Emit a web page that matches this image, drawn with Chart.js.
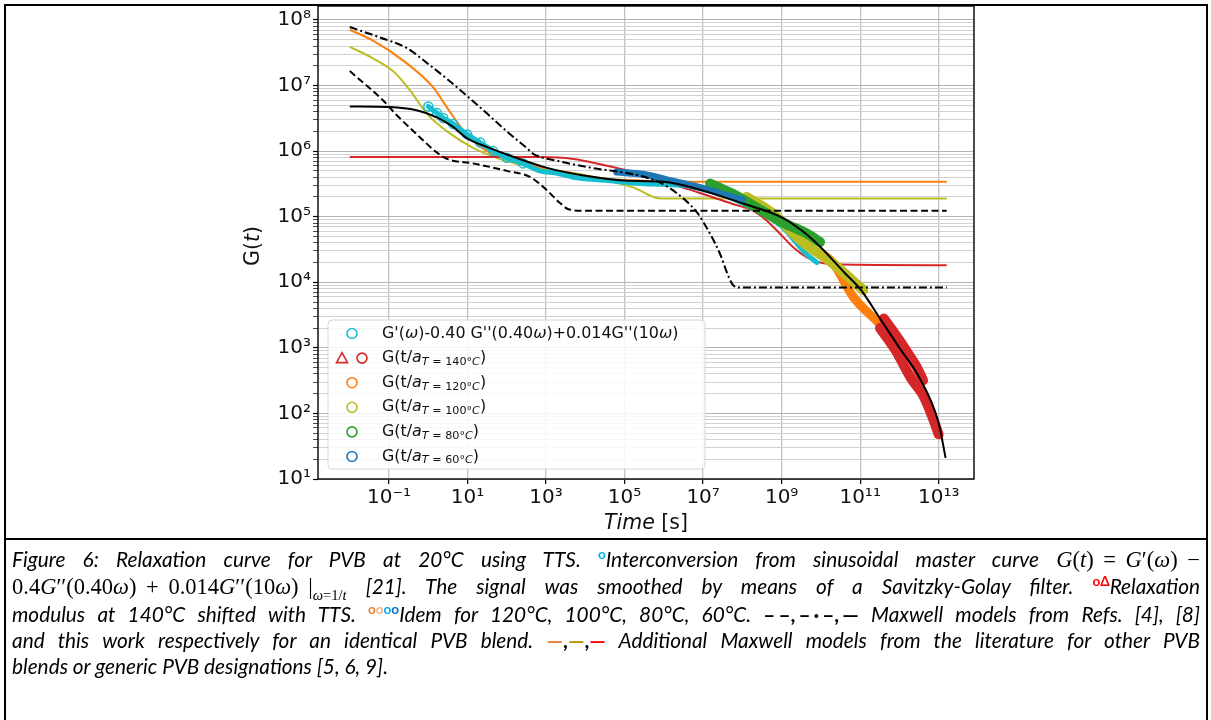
<!DOCTYPE html>
<html>
<head>
<meta charset="utf-8">
<script src="https://cdn.jsdelivr.net/npm/chart.js@4.4.1/dist/chart.umd.min.js"></script>
<style>
  html, body { margin: 0; padding: 0; background: #fff; }
  body { width: 1211px; height: 720px; position: relative; overflow: hidden; }
  #plot { position: absolute; left: 0; top: 0; }
  .frame { position: absolute; left: 4px; top: 4px; width: 1200px; height: 760px; border: 2px solid #000; }
  .sep { position: absolute; left: 4px; top: 538px; width: 1204px; height: 2px; background: #000; }
  #caption { position: absolute; left: 12px; top: 546px; width: 1188px; font-family: Lato, "Open Sans", sans-serif;
    font-style: italic; font-size: 20.8px; line-height: 26.3px; color: #000; }
  #caption div { text-align: justify; text-align-last: justify; white-space: nowrap; }
  #caption div.last { text-align: left; text-align-last: left; }
  .m { display: inline-block; font-family: "Liberation Serif", "DejaVu Serif", serif; font-style: normal; font-size: 22.5px; word-spacing: 4px; }
  .m i { font-style: italic; }
  .k { display: inline-block; font-style: normal; font-weight: bold; word-spacing: -2px; }
  sup, sub { line-height: 0; font-size: 65%; font-style: normal; font-weight: bold; }
  sub { font-weight: normal; }
</style>
</head>
<body>
<canvas id="plot" width="1211" height="540"></canvas>
<div class="frame"></div>
<div class="sep"></div>
<div id="caption">
  <div>Figure 6: Relaxation curve for PVB at 20°C using TTS. <sup style="color:#00b0f0">o</sup>Interconversion from sinusoidal master curve <span class="m"><i>G</i>(<i>t</i>) = <i>G</i>′(<i>ω</i>) −</span></div>
  <div><span class="m">0.4<i>G</i>′′(0.40<i>ω</i>) + 0.014<i>G</i>′′(10<i>ω</i>) |<sub><i>ω</i>=1/<i>t</i></sub></span> [21]. The signal was smoothed by means of a Savitzky-Golay filter. <sup style="color:#ff0000">oΔ</sup>Relaxation</div>
  <div>modulus at 140°C shifted with TTS. <sup><span style="color:#ed7d31">o</span><span style="color:#f4b183">o</span><span style="color:#00b0f0">o</span><span style="color:#0070c0">o</span></sup>Idem for 120°C, 100°C, 80°C, 60°C. <span class="k">– –, – · –, —</span> Maxwell models from Refs. [4], [8]</div>
  <div>and this work respectively for an identical PVB blend. <span class="k"><span style="color:#ed7d31">—</span>,<span style="color:#bf9000">—</span>,<span style="color:#ff0000">—</span></span> Additional Maxwell models from the literature for other PVB</div>
  <div class="last">blends or generic PVB designations [5, 6, 9].</div>
</div>
<script>
// axis ticks
const xTicks = [1e-1, 1e1, 1e3, 1e5, 1e7, 1e9, 1e11, 1e13];
const yMajor = [1e1, 1e2, 1e3, 1e4, 1e5, 1e6, 1e7, 1e8];

// Maxwell model: this work (solid black)
const tBlk = [1e-2, 1e-1, 0.5, 1.6, 4, 10, 32, 100, 1e3, 1e4, 1e5, 1e6, 1e7, 1e8, 1e9, 3.2e9, 1e10, 4e10, 1e11, 3.2e11, 1e12, 3.2e12, 1e13, 1.5e13];
const gBlk = [4.8e6, 4.7e6, 4.2e6, 3.3e6, 2.4e6, 1.55e6, 1.15e6, 8.9e5, 5.6e5, 4.2e5, 3.55e5, 3.4e5, 2.5e5, 1.6e5, 9.8e4, 6.2e4, 3.4e4, 1.4e4, 7.9e3, 2.8e3, 1.0e3, 355, 71, 21];
// Ref. [4] (dashed)
const tR4 = [1e-2, 0.071, 0.16, 0.51, 1.66, 3.0, 13.8, 100, 400, 1.07e3, 2.3e3, 3.7e3, 1e4, 1.6e13];
const gR4 = [1.66e7, 5.9e6, 3.5e6, 1.8e6, 9.5e5, 7.6e5, 6.5e5, 5.0e5, 4.0e5, 2.5e5, 1.6e5, 1.3e5, 1.23e5, 1.23e5];
// Ref. [8] (dash-dot)
const tR8 = [1e-2, 0.059, 0.29, 0.93, 3.0, 9.8, 32, 100, 330, 470, 1.95e3, 1.35e4, 2.5e5, 8e5, 2.1e6, 6.9e6, 1.5e7, 2.7e7, 4.5e7, 5.9e7, 8.7e7, 1.6e13];
const gR8 = [7.8e7, 5.4e7, 3.7e7, 2.2e7, 1.26e7, 6.9e6, 3.7e6, 2.0e6, 1.1e6, 9.1e5, 7.1e5, 5.6e5, 4.2e5, 3.3e5, 2.3e5, 1.17e5, 5.5e4, 2.7e4, 1.2e4, 8.9e3, 8.3e3, 8.3e3];
// other PVB models from literature
const tLitOr = [1e-2, 0.04, 0.23, 1.35, 3.0, 9.5, 31, 100, 700, 5e3, 3.5e4, 2.5e5, 1e6, 1.6e13];
const gLitOr = [7.1e7, 4.8e7, 2.4e7, 9.3e6, 4.6e6, 1.8e6, 1.0e6, 7.9e5, 5.6e5, 4.6e5, 3.8e5, 3.55e5, 3.4e5, 3.4e5];
const tLitOl = [1e-2, 0.039, 0.126, 0.35, 0.93, 3.0, 13.8, 68, 470, 4.9e3, 3.5e4, 1.66e5, 5.4e5, 8.9e5, 1.6e13];
const gLitOl = [3.9e7, 2.6e7, 1.66e7, 8.3e6, 3.7e6, 2.0e6, 1.12e6, 7.6e5, 5.6e5, 4.6e5, 3.55e5, 2.8e5, 2.0e5, 1.9e5, 1.9e5];
const tLitRd = [1e-2, 700, 5e3, 2.4e4, 1.66e5, 1.17e6, 8.3e6, 5.9e7, 1.9e8, 4.2e8, 9.1e8, 2e9, 4.4e9, 9.5e9, 3.1e10, 1.6e13];
const gLitRd = [8.1e5, 8.1e5, 7.6e5, 6.3e5, 4.8e5, 3.3e5, 2.3e5, 1.55e5, 1.23e5, 8.7e4, 5.5e4, 3.4e4, 2.4e4, 2.0e4, 1.86e4, 1.82e4];

// measured data
const tCy = [1.0, 1.66, 2.4, 4.3, 9.8, 21, 45, 100, 260, 700, 1.95e3, 4.9e3, 3.2e4, 2.5e5, 7.9e6, 1e8, 1e9, 4e9, 7.9e9];
const gCy = [4.8e6, 3.8e6, 3.2e6, 2.6e6, 1.8e6, 1.35e6, 1.0e6, 7.9e5, 6.5e5, 5.0e5, 4.6e5, 4.0e5, 3.6e5, 3.2e5, 2.8e5, 1.6e5, 7.1e4, 2.8e4, 2.0e4];
const t140c = [4e11, 7.9e11, 1.6e12, 2.8e12, 4e12];
const g140c = [2.8e3, 1.6e3, 850, 500, 320];
const t140t = [3.2e11, 7.9e11, 2e12, 4e12, 7.1e12, 1e13];
const g140t = [2.0e3, 930, 340, 190, 85, 48];
const t120 = [1e10, 2e10, 6.8e10, 2.6e11, 8.5e11];
const g120 = [2.8e4, 2.0e4, 5.9e3, 2.6e3, 1.3e3];
const t100 = [1.3e8, 6.2e8, 3e9, 2.1e10, 1.2e11];
const g100 = [2.0e5, 1.1e5, 4.4e4, 1.9e4, 7.6e3];
const t80 = [1.5e7, 5.9e7, 2.3e8, 1.1e9, 4.4e9, 9.5e9];
const g80 = [3.2e5, 2.2e5, 1.38e5, 8.1e4, 5.5e4, 4.1e4];
const t60 = [6.3e4, 3.2e5, 1.6e6, 7.9e6, 3.2e7, 1e8];
const g60 = [4.8e5, 4.4e5, 3.5e5, 2.8e5, 2.2e5, 1.8e5];

const C = { blue: '#1f77b4', orange: '#ff7f0e', green: '#2ca02c', red: '#d62728', olive: '#bcbd22', cyan: '#17becf' };

const toPts = (ts, gs) => ts.map((t, i) => ({ x: t, y: gs[i] }));
const isDecade = v => Math.abs(Math.log10(v) - Math.round(Math.log10(v))) < 1e-6;
const SUP = { '-': '⁻', '0': '⁰', '1': '¹', '2': '²', '3': '³', '4': '⁴', '5': '⁵', '6': '⁶', '7': '⁷', '8': '⁸', '9': '⁹' };
const powLabel = v => '10' + String(Math.round(Math.log10(v))).split('').map(c => SUP[c]).join('');

const yTicks = [];
yMajor.forEach(m => { for (let k = 1; k <= 9; k++) if (k * m <= 1.63e8) yTicks.push(k * m); });

const curve = (ts, gs, color, width, dash, order) => ({
  data: toPts(ts, gs), borderColor: color, borderWidth: width, borderDash: dash || [],
  pointRadius: 0, cubicInterpolationMode: 'monotone', fill: false, order
});
const band = (ts, gs, color, width, order) => ({
  data: toPts(ts, gs), borderColor: color, borderWidth: width, borderCapStyle: 'round',
  pointRadius: 0, cubicInterpolationMode: 'monotone', fill: false, order
});

const cyanSet = band(tCy, gCy, C.cyan, 5, 9);
cyanSet.pointRadius = ctx => (ctx.dataIndex < 9 ? 4.5 : 0);
cyanSet.pointBorderColor = C.cyan;
cyanSet.pointBackgroundColor = 'rgba(0,0,0,0)';
cyanSet.pointBorderWidth = 1.5;

const datasets = [
  curve(tBlk, gBlk, '#000', 2, null, 0),
  curve(tR4, gR4, '#000', 2, [7, 3.5], 1),
  curve(tR8, gR8, '#000', 2, [8, 3, 2, 3], 2),
  band(t60, g60, C.blue, 7, 3),
  band(t80, g80, C.green, 10, 4),
  band(t100, g100, C.olive, 10, 5),
  band(t140c, g140c, C.red, 10, 6),
  band(t140t, g140t, C.red, 10, 6),
  band(t120, g120, C.orange, 9, 7),
  cyanSet,
  curve(tLitRd, gLitRd, C.red, 2, null, 10),
  curve(tLitOl, gLitOl, C.olive, 2, null, 11),
  curve(tLitOr, gLitOr, C.orange, 2, null, 12)
];

const REG = '15.9px "DejaVu Sans"', IT = 'italic 15.9px "DejaVu Sans"';
const SREG = '11.2px "DejaVu Sans"', SIT = 'italic 11.2px "DejaVu Sans"';
const subRuns = temp => [
  { t: 'G(t/', f: REG }, { t: 'a', f: IT }, { t: 'T', f: SIT, dy: 4 }, { t: ' = ', f: SREG, dy: 4 },
  { t: temp + '°', f: SREG, dy: 4 }, { t: 'C', f: SIT, dy: 4 }, { t: ')', f: REG }
];
const legendRows = [
  { markers: [['circle', C.cyan, 24]], runs: [{ t: "G'(", f: REG }, { t: 'ω', f: IT }, { t: ")-0.40 G''(0.40", f: REG }, { t: 'ω', f: IT }, { t: ")+0.014G''(10", f: REG }, { t: 'ω', f: IT }, { t: ')', f: REG }] },
  { markers: [['triangle', C.red, 14], ['circle', C.red, 34]], runs: subRuns('140') },
  { markers: [['circle', C.orange, 24]], runs: subRuns('120') },
  { markers: [['circle', C.olive, 24]], runs: subRuns('100') },
  { markers: [['circle', C.green, 24]], runs: subRuns('80') },
  { markers: [['circle', C.blue, 24]], runs: subRuns('60') }
];

function drawRuns(ctx, runs, x, y) {
  ctx.textBaseline = 'middle';
  ctx.textAlign = 'left';
  runs.forEach(r => {
    ctx.font = r.f;
    ctx.fillText(r.t, x, y + (r.dy || 0));
    x += ctx.measureText(r.t).width;
  });
  return x;
}

const decorations = {
  id: 'decorations',
  afterDatasetsDraw(chart) {
    const { ctx, chartArea: a } = chart;
    ctx.save();
    // spines
    ctx.strokeStyle = '#000';
    ctx.lineWidth = 1.4;
    ctx.strokeRect(a.left, a.top, a.right - a.left, a.bottom - a.top);
    // legend box
    const lx = a.left + 10, ly = a.top + 314, lw = 377, lh = 149, r = 4;
    ctx.beginPath();
    ctx.moveTo(lx + r, ly);
    ctx.arcTo(lx + lw, ly, lx + lw, ly + lh, r);
    ctx.arcTo(lx + lw, ly + lh, lx, ly + lh, r);
    ctx.arcTo(lx, ly + lh, lx, ly, r);
    ctx.arcTo(lx, ly, lx + lw, ly, r);
    ctx.closePath();
    ctx.fillStyle = 'rgba(255,255,255,0.85)';
    ctx.fill();
    ctx.strokeStyle = '#d6d6d6';
    ctx.lineWidth = 1;
    ctx.stroke();
    legendRows.forEach((row, i) => {
      const y = ly + 13.5 + i * 24.6;
      row.markers.forEach(([shape, color, dx]) => {
        ctx.strokeStyle = color;
        ctx.lineWidth = 1.6;
        ctx.beginPath();
        if (shape === 'circle') {
          ctx.arc(lx + dx, y, 5, 0, Math.PI * 2);
        } else {
          ctx.moveTo(lx + dx, y - 5.5);
          ctx.lineTo(lx + dx + 5.5, y + 4.5);
          ctx.lineTo(lx + dx - 5.5, y + 4.5);
          ctx.closePath();
        }
        ctx.stroke();
      });
      ctx.fillStyle = '#111';
      drawRuns(ctx, row.runs, lx + 54, y);
    });
    // axis titles
    ctx.fillStyle = '#111';
    const tf = '20.5px "DejaVu Sans"', tfi = 'italic 20.5px "DejaVu Sans"';
    const xRuns = [{ t: 'Time', f: tfi }, { t: ' [s]', f: tf }];
    let w = 0;
    xRuns.forEach(r => { ctx.font = r.f; w += ctx.measureText(r.t).width; });
    drawRuns(ctx, xRuns, (a.left + a.right) / 2 - w / 2, a.bottom + 45);
    const yRuns = [{ t: 'G(', f: tf }, { t: 't', f: tfi }, { t: ')', f: tf }];
    w = 0;
    yRuns.forEach(r => { ctx.font = r.f; w += ctx.measureText(r.t).width; });
    ctx.translate(a.left - 64, 246);
    ctx.rotate(-Math.PI / 2);
    drawRuns(ctx, yRuns, -w / 2, 0);
    ctx.restore();
  }
};

const tickFont = { family: 'DejaVu Sans', size: 20 };

new Chart(document.getElementById('plot'), {
  type: 'line',
  data: { datasets },
  plugins: [decorations],
  options: {
    responsive: false,
    animation: false,
    events: [],
    layout: { padding: { left: 0, top: 5, right: 237, bottom: 0 } },
    plugins: { legend: { display: false }, tooltip: { enabled: false } },
    scales: {
      x: {
        type: 'logarithmic',
        min: 1.55e-3,
        max: 7.94e13,
        afterBuildTicks: s => { s.ticks = xTicks.map(v => ({ value: v })); },
        afterFit: s => { s.height = 61; s.paddingLeft = 0; s.paddingRight = 0; },
        ticks: { autoSkip: false, maxRotation: 0, padding: 2, color: '#111', font: tickFont, callback: v => powLabel(v) },
        grid: { color: '#c2c2c2', lineWidth: 1.3, tickLength: 5, tickColor: '#000', tickWidth: 1.2 },
        border: { display: false }
      },
      y: {
        type: 'logarithmic',
        min: 10,
        max: 1.633e8,
        afterBuildTicks: s => { s.ticks = yTicks.map(v => ({ value: v })); },
        afterFit: s => { s.width = 318; s.paddingTop = 0; s.paddingBottom = 0; },
        ticks: { autoSkip: false, padding: 2, color: '#111', font: tickFont, callback: v => (isDecade(v) ? powLabel(v) : '') },
        grid: {
          color: ctx => (ctx.tick && isDecade(ctx.tick.value) ? '#b4b4b4' : '#d2d2d2'),
          lineWidth: 1,
          tickLength: 5,
          tickColor: '#000',
          tickWidth: ctx => (ctx.tick && isDecade(ctx.tick.value) ? 1.2 : 0.7)
        },
        border: { display: false }
      }
    }
  }
});
</script>
</body>
</html>
